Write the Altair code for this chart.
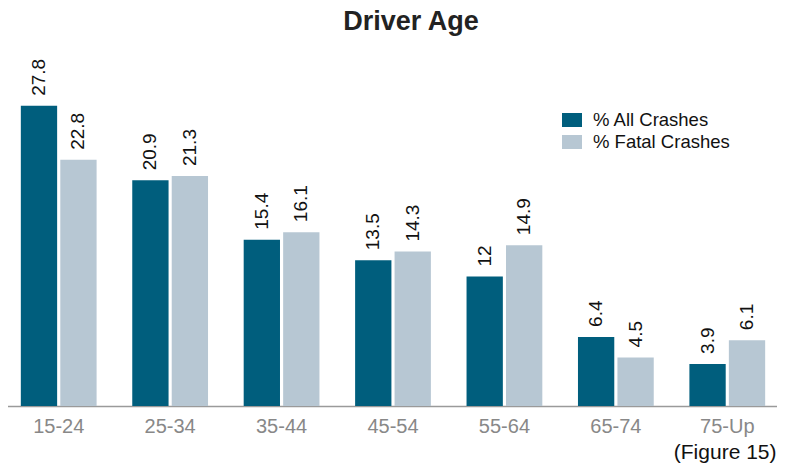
import altair as alt
import pandas as pd

ages = ["15-24", "25-34", "35-44", "45-54", "55-64", "65-74", "75-Up"]
all_crashes = [27.8, 20.9, 15.4, 13.5, 12, 6.4, 3.9]
fatal_crashes = [22.8, 21.3, 16.1, 14.3, 14.9, 4.5, 6.1]
series = ["% All Crashes", "% Fatal Crashes"]
colors = ["#005e7d", "#b7c7d3"]
chart_title = ["Driver Age"]

rows = []
for a, v1, v2 in zip(ages, all_crashes, fatal_crashes):
    rows.append({"age": a, "series": series[0], "value": v1, "label": f"{v1:g}"})
    rows.append({"age": a, "series": series[1], "value": v2, "label": f"{v2:g}"})
df = pd.DataFrame(rows)

FONT = "Liberation Sans"

x = alt.X("age:N", sort=ages,
          scale=alt.Scale(range=[-5, 775], paddingInner=0.32, paddingOuter=0.16),
          axis=alt.Axis(title="(Figure 15)", labelAngle=0, ticks=False,
                        labelColor="#888888", labelFontSize=20, labelFont=FONT,
                        labelPadding=10, domainColor="#9a9a9a", domainWidth=1.5,
                        titleFont=FONT, titleFontSize=21, titleFontWeight="normal",
                        titleColor="#111111", titleAnchor="end", titleAlign="right",
                        titleBaseline="alphabetic", titleX=768, titleY=52))
xo = alt.XOffset("series:N", sort=series, scale=alt.Scale(paddingInner=0.08))
y = alt.Y("value:Q", scale=alt.Scale(domain=[0, 33.9], nice=False), axis=None)

bars = alt.Chart(df).mark_bar().encode(
    x=x, xOffset=xo, y=y,
    color=alt.Color("series:N", sort=series,
                    scale=alt.Scale(domain=series, range=colors),
                    legend=alt.Legend(title=None, orient="none", legendX=554, legendY=70,
                                      symbolType="M-1,-0.7H1V0.7H-1Z", symbolSize=400,
                                      symbolStrokeWidth=0, labelFont=FONT,
                                      labelFontSize=18.5, labelColor="#111111",
                                      rowPadding=2, labelOffset=11)),
)

labels = alt.Chart(df).mark_text(angle=270, align="left", baseline="middle", dx=10,
                                 fontSize=19, font=FONT, color="#111111").encode(
    x=x, xOffset=xo, y=y, text="label:N")

title = alt.Chart(pd.DataFrame({"t": chart_title})).mark_text(
    font=FONT, fontSize=27, fontWeight="bold", color="#222222",
    align="center", baseline="alphabetic").encode(
    x=alt.value(403), y=alt.value(-10), text="t:N")

chart = alt.layer(bars, labels, title).properties(
    width=769, height=366,
    autosize=alt.AutoSizeParams(type="none"),
    padding={"left": 0, "top": 32, "right": 0, "bottom": 57},
).configure_view(stroke=None)

chart.save("out.html", embed_options={"renderer": "svg", "actions": False})
